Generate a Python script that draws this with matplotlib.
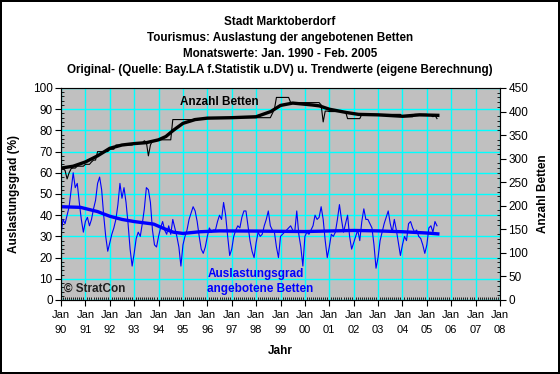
import numpy as np
import matplotlib
matplotlib.use("Agg")
import matplotlib.pyplot as plt
from matplotlib.ticker import MultipleLocator

plt.rcParams['font.family'] = ['Liberation Sans', 'DejaVu Sans']

# monthly occupancy (%) Jan 1990 - Jun 2005
ausl_1990 = [31, 38, 36, 40, 44, 52, 60, 53, 55, 46, 38, 32]
ausl_1991 = [37, 39, 35, 38, 43, 47, 55, 58, 52, 40, 30, 23]
ausl_1992 = [27, 31, 34, 38, 45, 55, 48, 53, 46, 36, 24, 16]
ausl_1993 = [22, 29, 32, 30, 36, 43, 53, 52, 46, 33, 26, 25]
ausl_1994 = [30, 34, 37, 33, 31, 35, 31, 38, 34, 30, 25, 16]
ausl_1995 = [26, 30, 33, 38, 41, 44, 42, 37, 30, 24, 22, 25]
ausl_1996 = [30, 34, 32, 33, 33, 37, 40, 38, 46, 40, 30, 21]
ausl_1997 = [24, 30, 33, 35, 34, 39, 42, 42, 35, 28, 23, 20]
ausl_1998 = [27, 32, 30, 31, 35, 38, 42, 35, 33, 32, 25, 20]
ausl_1999 = [30, 31, 32, 33, 34, 35, 33, 32, 42, 31, 25, 16]
ausl_2000 = [30, 32, 31, 33, 35, 40, 38, 39, 44, 38, 28, 20]
ausl_2001 = [25, 31, 30, 32, 38, 45, 38, 32, 36, 40, 30, 24]
ausl_2002 = [27, 30, 33, 28, 37, 43, 38, 38, 36, 34, 26, 15]
ausl_2003 = [20, 28, 32, 36, 39, 42, 36, 32, 38, 33, 27, 21]
ausl_2004 = [26, 30, 28, 36, 37, 34, 32, 33, 30, 29, 26, 22]
ausl_2005 = [26, 34, 35, 32, 37, 35]

# monthly number of beds
betten_1990 = [280, 279, 275, 257, 270, 279, 280, 280, 284, 284, 284, 284]
betten_1991 = [288, 288, 288, 293, 297, 297, 315, 315, 315, 315, 315, 315]
betten_1992 = [320, 320, 320, 329, 329, 329, 329, 329, 329, 329, 329, 329]
betten_1993 = [333, 333, 333, 333, 333, 338, 335, 306, 329, 338, 338, 338]
betten_1994 = [340, 340, 340, 340, 340, 340, 340, 383, 383, 383, 383, 383]
betten_1995 = [383, 383, 383, 383, 383, 383, 385, 385, 385, 385, 385, 385]
betten_1996 = [387, 387, 387, 387, 387, 387, 387, 387, 387, 387, 387, 387]
betten_1997 = [387, 387, 387, 387, 387, 387, 387, 387, 387, 387, 387, 387]
betten_1998 = [387, 387, 387, 387, 387, 387, 387, 387, 396, 405, 430, 430]
betten_1999 = [430, 430, 430, 430, 430, 419, 419, 419, 419, 419, 419, 419]
betten_2000 = [419, 419, 419, 419, 419, 419, 419, 419, 414, 378, 401, 401]
betten_2001 = [400, 400, 400, 400, 400, 400, 400, 400, 400, 385, 385, 385]
betten_2002 = [385, 385, 385, 385, 394, 394, 394, 394, 394, 394, 394, 394]
betten_2003 = [394, 394, 394, 394, 394, 394, 394, 394, 394, 394, 394, 394]
betten_2004 = [389, 389, 389, 389, 389, 389, 394, 394, 394, 394, 394, 394]
betten_2005 = [394, 392, 392, 389, 392, 385]

# trend values (own calculation)
trend_ausl_t = [1990.0, 1990.8, 1991.5, 1992.0, 1992.5, 1993.0, 1993.8, 1994.2, 1994.6,
                1995.0, 1995.7, 1996.5, 1998.0, 2000.0, 2002.0, 2003.0, 2004.0, 2005.0, 2005.45]
trend_ausl = [44, 43.7, 41.7, 39.5, 38, 37, 35.8, 33.8, 32,
              31.4, 32.2, 32.6, 32.5, 32.3, 32.8, 32.6, 32.2, 31.6, 31.2]
trend_bett_t = [1990.0, 1990.5, 1991.0, 1991.5, 1992.0, 1992.5, 1993.0, 1993.5, 1994.0, 1994.3,
                1994.6, 1995.0, 1995.5, 1996.0, 1997.0, 1998.0, 1998.6, 1999.0, 1999.5, 2000.3,
                2000.6, 2001.0, 2001.7, 2002.2, 2003.0, 2004.0, 2004.7, 2005.45]
trend_bett = [280, 284, 293, 306, 322, 329, 332, 334, 340, 347,
              360, 375, 383, 386, 387, 389, 400, 413, 418, 414,
              412, 405, 398, 394, 393, 390, 393, 392]

years = list(range(1990, 2009))
year_labels = ["Jan\n%02d" % (y % 100) for y in years]

ausl = (ausl_1990 + ausl_1991 + ausl_1992 + ausl_1993 + ausl_1994 + ausl_1995 + ausl_1996
        + ausl_1997 + ausl_1998 + ausl_1999 + ausl_2000 + ausl_2001 + ausl_2002 + ausl_2003
        + ausl_2004 + ausl_2005)
betten = (betten_1990 + betten_1991 + betten_1992 + betten_1993 + betten_1994 + betten_1995
          + betten_1996 + betten_1997 + betten_1998 + betten_1999 + betten_2000 + betten_2001
          + betten_2002 + betten_2003 + betten_2004 + betten_2005)
t = 1990 + np.arange(len(ausl)) / 12.0

fig = plt.figure(figsize=(5.6, 3.74), dpi=100)
fig.patch.set_edgecolor('black')
fig.patch.set_linewidth(1.5)

ax = fig.add_axes([61 / 560, 1 - 300 / 374, 439 / 560, 212 / 374])
ax.set_facecolor('#C0C0C0')
ax.set_xlim(1990, 2008)
ax.set_ylim(0, 100)
ax.set_xticks(years)
ax.set_xticklabels(year_labels, fontsize=8, linespacing=1.65)
ax.set_yticks(range(0, 101, 10))
ax.tick_params(axis='y', labelsize=8.5, length=4, pad=2)
ax.tick_params(axis='x', length=4, pad=3)
ax.xaxis.set_minor_locator(MultipleLocator(1 / 12))
ax.yaxis.set_minor_locator(MultipleLocator(2))
ax.tick_params(which='minor', direction='in', length=2)
ax.grid(True, which='major', color='#00FFFF', linewidth=1)
ax.set_axisbelow(True)
for s in ['top', 'right']:
    ax.spines[s].set_color('#808080')

ax.plot(t, ausl, color='#0000FF', linewidth=0.8)
ax.plot(trend_ausl_t, trend_ausl, color='#0000FF', linewidth=2.4)

ax2 = ax.twinx()
ax2.set_ylim(0, 450)
ax2.set_yticks(range(0, 451, 50))
ax2.yaxis.set_minor_locator(MultipleLocator(10))
ax2.tick_params(axis='y', labelsize=8.5, length=4, pad=2)
ax2.tick_params(which='minor', direction='in', length=2)
ax2.plot(t, betten, color='black', linewidth=0.8)
ax2.plot(trend_bett_t, trend_bett, color='black', linewidth=2.4)

ax.set_ylabel("Auslastungsgrad (%)", fontsize=8.5, fontweight='bold', labelpad=9)
ax2.set_ylabel("Anzahl Betten", fontsize=8.5, fontweight='bold', labelpad=6)
ax.set_xlabel("Jahr", fontsize=8.5, fontweight='bold', labelpad=7)

ax.text(1994.88, 93.4, "Anzahl Betten", fontsize=8.5, fontweight='bold', va='center')
ax.text(1996.0, 12.3, "Auslastungsgrad", color='#0000FF', fontsize=8.5,
        fontweight='bold', va='center')
ax.text(1996.0, 5.2, "angebotene Betten", color='#0000FF', fontsize=8.5,
        fontweight='bold', va='center')
ax.text(1990.12, 5.2, "\u00a9 StratCon", color='#202020', fontsize=8.5,
        fontweight='bold', va='center')

titles = ["Stadt Marktoberdorf",
          "Tourismus: Auslastung der angebotenen Betten",
          "Monatswerte: Jan. 1990 - Feb. 2005",
          "Original- (Quelle: Bay.LA f.Statistik u.DV) u. Trendwerte (eigene Berechnung)"]
for i, line in enumerate(titles):
    fig.text(0.5, 1 - (22 + 16 * i) / 374, line, ha='center', va='center',
             fontsize=8.4, fontweight='bold')

fig.savefig("out.png", dpi=100, edgecolor=fig.get_edgecolor())
